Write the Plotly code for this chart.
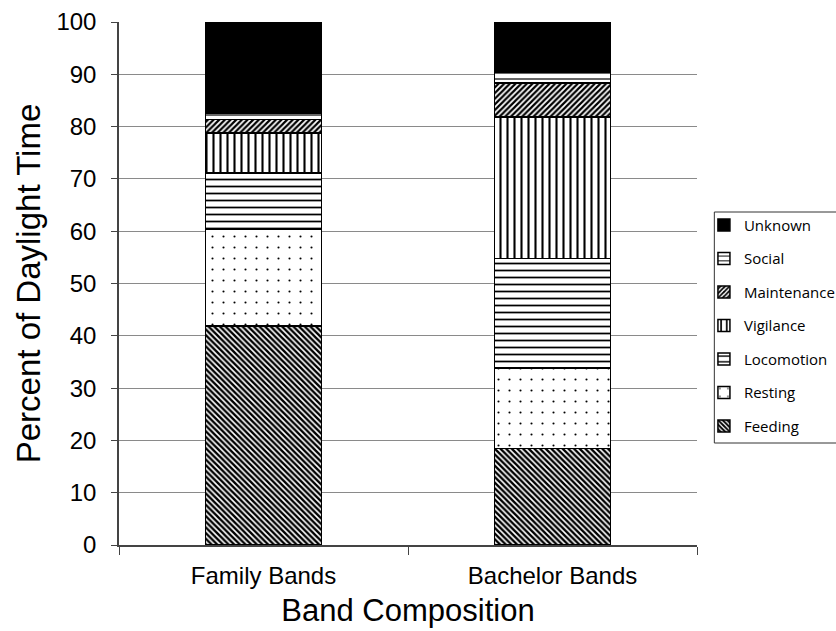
import plotly.graph_objects as go

# Percent of daylight time spent in each activity, by band composition
bands = ["Family Bands", "Bachelor Bands"]
activities = ["Feeding", "Resting", "Locomotion", "Vigilance", "Maintenance", "Social", "Unknown"]
feeding = [41.9, 18.5]
resting = [18.4, 15.3]
locomotion = [10.8, 21.0]
vigilance = [7.7, 27.0]
maintenance = [2.6, 6.5]
social = [1.2, 2.1]
unknown = [17.4, 9.6]

series = [feeding, resting, locomotion, vigilance, maintenance, social, unknown]

# fill pattern per activity: (shape, size, solidity)
patterns = {
    "Feeding": ("\\", 4, 0.6),
    "Resting": (".", 11, 0.03),
    "Locomotion": ("-", 7, 0.25),
    "Vigilance": ("|", 7, 0.3),
    "Maintenance": ("/", 4, 0.55),
    "Social": ("-", 6, 0.2),
    "Unknown": ("", 8, 0.3),
}

n = len(activities)
fig = go.Figure()
for i, (name, vals) in enumerate(zip(activities, series)):
    shape, size, solid = patterns[name]
    color = "black" if name == "Unknown" else "white"
    fig.add_trace(go.Bar(
        x=bands, y=vals, name=name, width=0.4,
        legendgroup=name, legendrank=n - i,
        marker=dict(
            color=color,
            line=dict(color="black", width=1.5),
            pattern=dict(shape=shape, size=size, solidity=solid,
                         fgcolor="black", bgcolor=color, fillmode="replace"),
        ),
    ))

# legend frame
fig.add_shape(
    type="rect", xref="paper", yref="paper",
    x0=1.030, x1=1.25, y0=0.195, y1=0.6367,
    line=dict(color="#333", width=1), fillcolor="white", layer="above",
)

fig.update_layout(
    barmode="stack",
    width=836, height=631,
    margin=dict(l=119, r=139, t=22, b=86, autoexpand=False),
    paper_bgcolor="white", plot_bgcolor="white",
    font=dict(family="Liberation Sans, Arial", color="black"),
    showlegend=True,
    legend=dict(
        x=1.012, y=0.643, xanchor="left", yanchor="top",
        traceorder="grouped", tracegroupgap=11,
        borderwidth=0, bgcolor="rgba(0,0,0,0)",
        font=dict(family="Open Sans", size=15, color="black"),
        itemwidth=30,
    ),
)

fig.update_xaxes(
    showline=True, linecolor="#444", linewidth=1.5,
    ticks="outside", ticklen=8, tickcolor="#444", tickson="boundaries",
    tickfont=dict(size=24), ticklabelstandoff=8,
    title=dict(text="Band Composition", font=dict(size=31), standoff=12),
    showgrid=False,
)
fig.update_yaxes(
    range=[0, 100], dtick=10,
    showline=True, linecolor="#444", linewidth=1.5,
    ticks="outside", ticklen=6, tickcolor="#444",
    tickfont=dict(size=24), ticklabelstandoff=10,
    showgrid=True, gridcolor="#8a8a8a", gridwidth=1,
    zeroline=False,
    title=dict(text="Percent of Daylight Time", font=dict(size=33), standoff=6),
)

fig.write_html("out.html")
